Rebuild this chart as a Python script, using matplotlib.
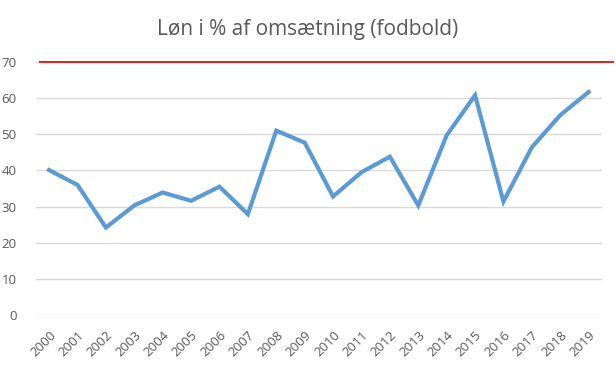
import matplotlib.pyplot as plt

plt.rcParams['font.family'] = ['Open Sans', 'DejaVu Sans']

years = [str(y) for y in range(2000, 2020)]
loen_pct = [40.1, 36.0, 24.2, 30.3, 33.9, 31.6, 35.5, 27.9, 51.0, 47.7,
            32.8, 39.5, 43.8, 30.3, 49.7, 60.8, 31.4, 46.4, 55.3, 61.7]
graense = 70
y_ticks = [0, 10, 20, 30, 40, 50, 60, 70]

fig = plt.figure(figsize=(6.16, 3.66), dpi=100)
ax = fig.add_axes([36 / 616, 1 - 315 / 366, 566 / 616, 253 / 366])

x = list(range(len(years)))
ax.plot(x, loen_pct, color='#5B9BD5', linewidth=3, solid_joinstyle='miter', zorder=3)
ax.axhline(graense, xmin=0.007, xmax=1.02, color='#D42A2A', linewidth=1.5, clip_on=False, zorder=4)

ax.set_xlim(-0.46, 19.47)
ax.set_ylim(0, 70)
ax.set_yticks(y_ticks)
ax.set_xticks(x)
ax.set_xticklabels(years, rotation=45, ha='right', rotation_mode='anchor')
ax.yaxis.grid(True, color='#D9D9D9', linewidth=1)
ax.set_axisbelow(True)
for s in ax.spines.values():
    s.set_visible(False)
ax.tick_params(length=0, colors='#595959', labelsize=9.5)
ax.tick_params(axis='y', pad=14)
ax.tick_params(axis='x', pad=10)

fig.text(0.5, 1 - 29 / 366, 'Løn i % af omsætning (fodbold)', ha='center', va='center',
         fontsize=15, color='#595959')

fig.savefig('out.png', dpi=100)
